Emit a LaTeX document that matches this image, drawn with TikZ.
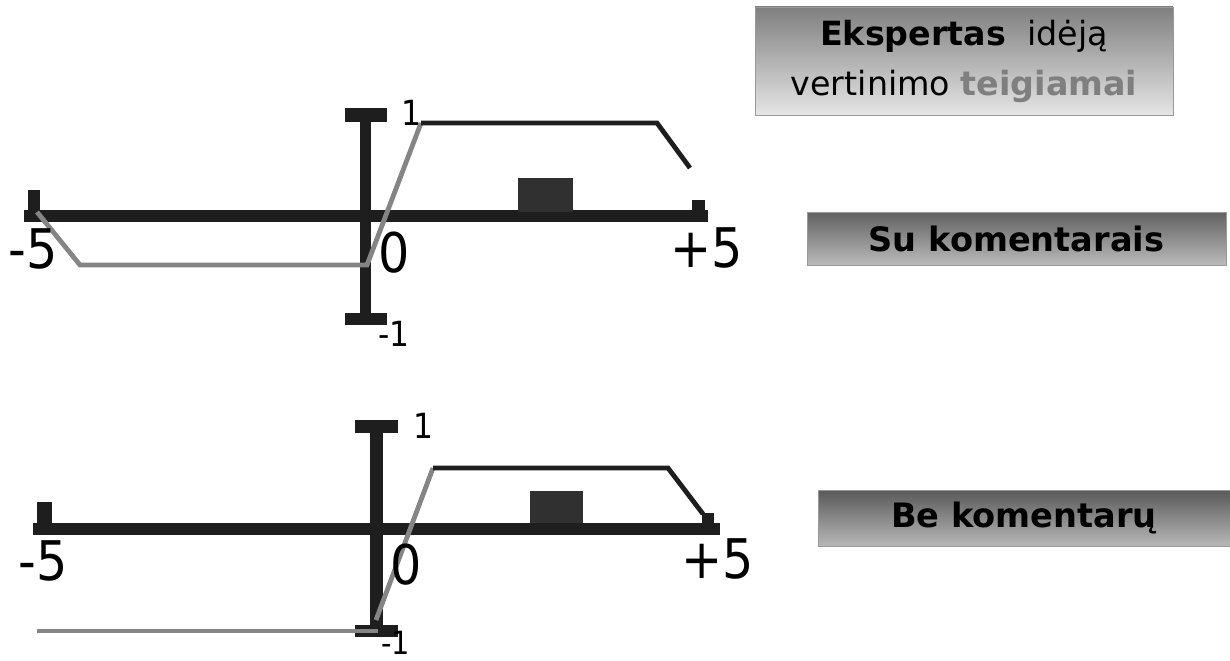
\documentclass[tikz,border=0pt]{standalone}
\usepackage{fontspec}
\setmainfont{DejaVu Sans}
\newfontfamily\axfont{DejaVu Sans Condensed}
\definecolor{axisc}{HTML}{1E1E1E}
\definecolor{grayln}{HTML}{858585}
\definecolor{rectc}{HTML}{303030}
\definecolor{teig}{HTML}{7F7F7F}
\begin{document}
\begin{tikzpicture}[x=0.75pt,y=-0.75pt,
  axbar/.style={fill=axisc,draw=none},
  grayline/.style={draw=grayln,line width=3.6pt,line join=miter},
  blackline/.style={draw=axisc,line width=3.6pt,line join=miter},
  bignum/.style={font=\axfont\fontsize{41}{41}\selectfont,inner sep=0pt,anchor=base west},
  smallnum/.style={font=\axfont\fontsize{26}{26}\selectfont,inner sep=0pt,anchor=base west},
  gbox/.style={draw=black!40,line width=0.6pt,shading=axis,inner sep=0pt,align=center},
]
\useasboundingbox (0,0) rectangle (1230,660);
\fill[white] (0,0) rectangle (1230,660);

% ---------- top chart ----------
\fill[axbar] (24,210) rectangle (708,222);
\fill[axbar] (28,190) rectangle (40,212);
\fill[axbar] (692,200) rectangle (705,212);
\fill[axbar] (360,108) rectangle (371,325);
\fill[axbar] (345,108) rectangle (387,122);
\fill[axbar] (345,313) rectangle (387,325);
\fill[rectc] (518,178) rectangle (573,212);
\coordinate (ta) at (37,212);
\coordinate (tb) at (80,265);
\coordinate (tc) at (367,265);
\coordinate (td) at (421,123);
\coordinate (te) at (657,123);
\coordinate (tf) at (690,168);
\draw[grayline] (ta) -- (tb) -- (tc) -- (td);
\draw[blackline] (td) -- (te) -- (tf);
\node[bignum] (tm5) at (8,268) {-5};
\node[bignum] (t0) at (378,272) {0};
\node[bignum] (tp5) at (670,267) {+5};
\node[smallnum] (t1) at (401,125) {1};
\node[smallnum] (tm1) at (378,346) {-1};

% ---------- bottom chart ----------
\fill[axbar] (33,523) rectangle (720,535);
\fill[axbar] (37,502) rectangle (52,523);
\fill[axbar] (702,513) rectangle (714,527);
\fill[axbar] (370,420) rectangle (383,637);
\fill[axbar] (355,420) rectangle (398,433);
\fill[axbar] (355,625) rectangle (398,637);
\fill[rectc] (530,491) rectangle (583,523);
\coordinate (ba) at (37,631);
\coordinate (bb) at (378,631);
\coordinate (bc) at (376,620);
\coordinate (bd) at (433,468);
\coordinate (be) at (668,468);
\coordinate (bf) at (703,514);
\draw[grayline] (ba) -- (bb);
\draw[grayline] (bc) -- (bd);
\draw[blackline] (bd) -- (be) -- (bf);
\node[bignum] (bm5) at (18,580) {-5};
\node[bignum] (b0) at (390,584) {0};
\node[bignum] (bp5) at (681,578) {+5};
\node[smallnum] (b1) at (413,438) {1};
\node[smallnum,font=\axfont\fontsize{24}{24}\selectfont] (bm1) at (381,654) {-1};

% ---------- boxes ----------
\node[gbox,top color=black!50,bottom color=black!10,
      minimum width=313.5pt,minimum height=81pt,
      font=\fontsize{25}{37.5}\selectfont] (ek) at (964,61)
  {{\bfseries Ekspertas}\ \ idėją\\vertinimo {\bfseries\color{teig}teigiamai}};
\node[gbox,top color=black!62,bottom color=black!27,
      minimum width=314.25pt,minimum height=39.75pt,
      font=\bfseries\fontsize{25.2}{28}\selectfont] (su) at (1016.5,238.5)
  {Su komentarais};
\node[gbox,top color=black!65,bottom color=black!28,
      minimum width=309pt,minimum height=42pt,
      font=\bfseries\fontsize{25.2}{28}\selectfont] (bk) at (1024,518)
  {Be komentarų};
\end{tikzpicture}
\end{document}
